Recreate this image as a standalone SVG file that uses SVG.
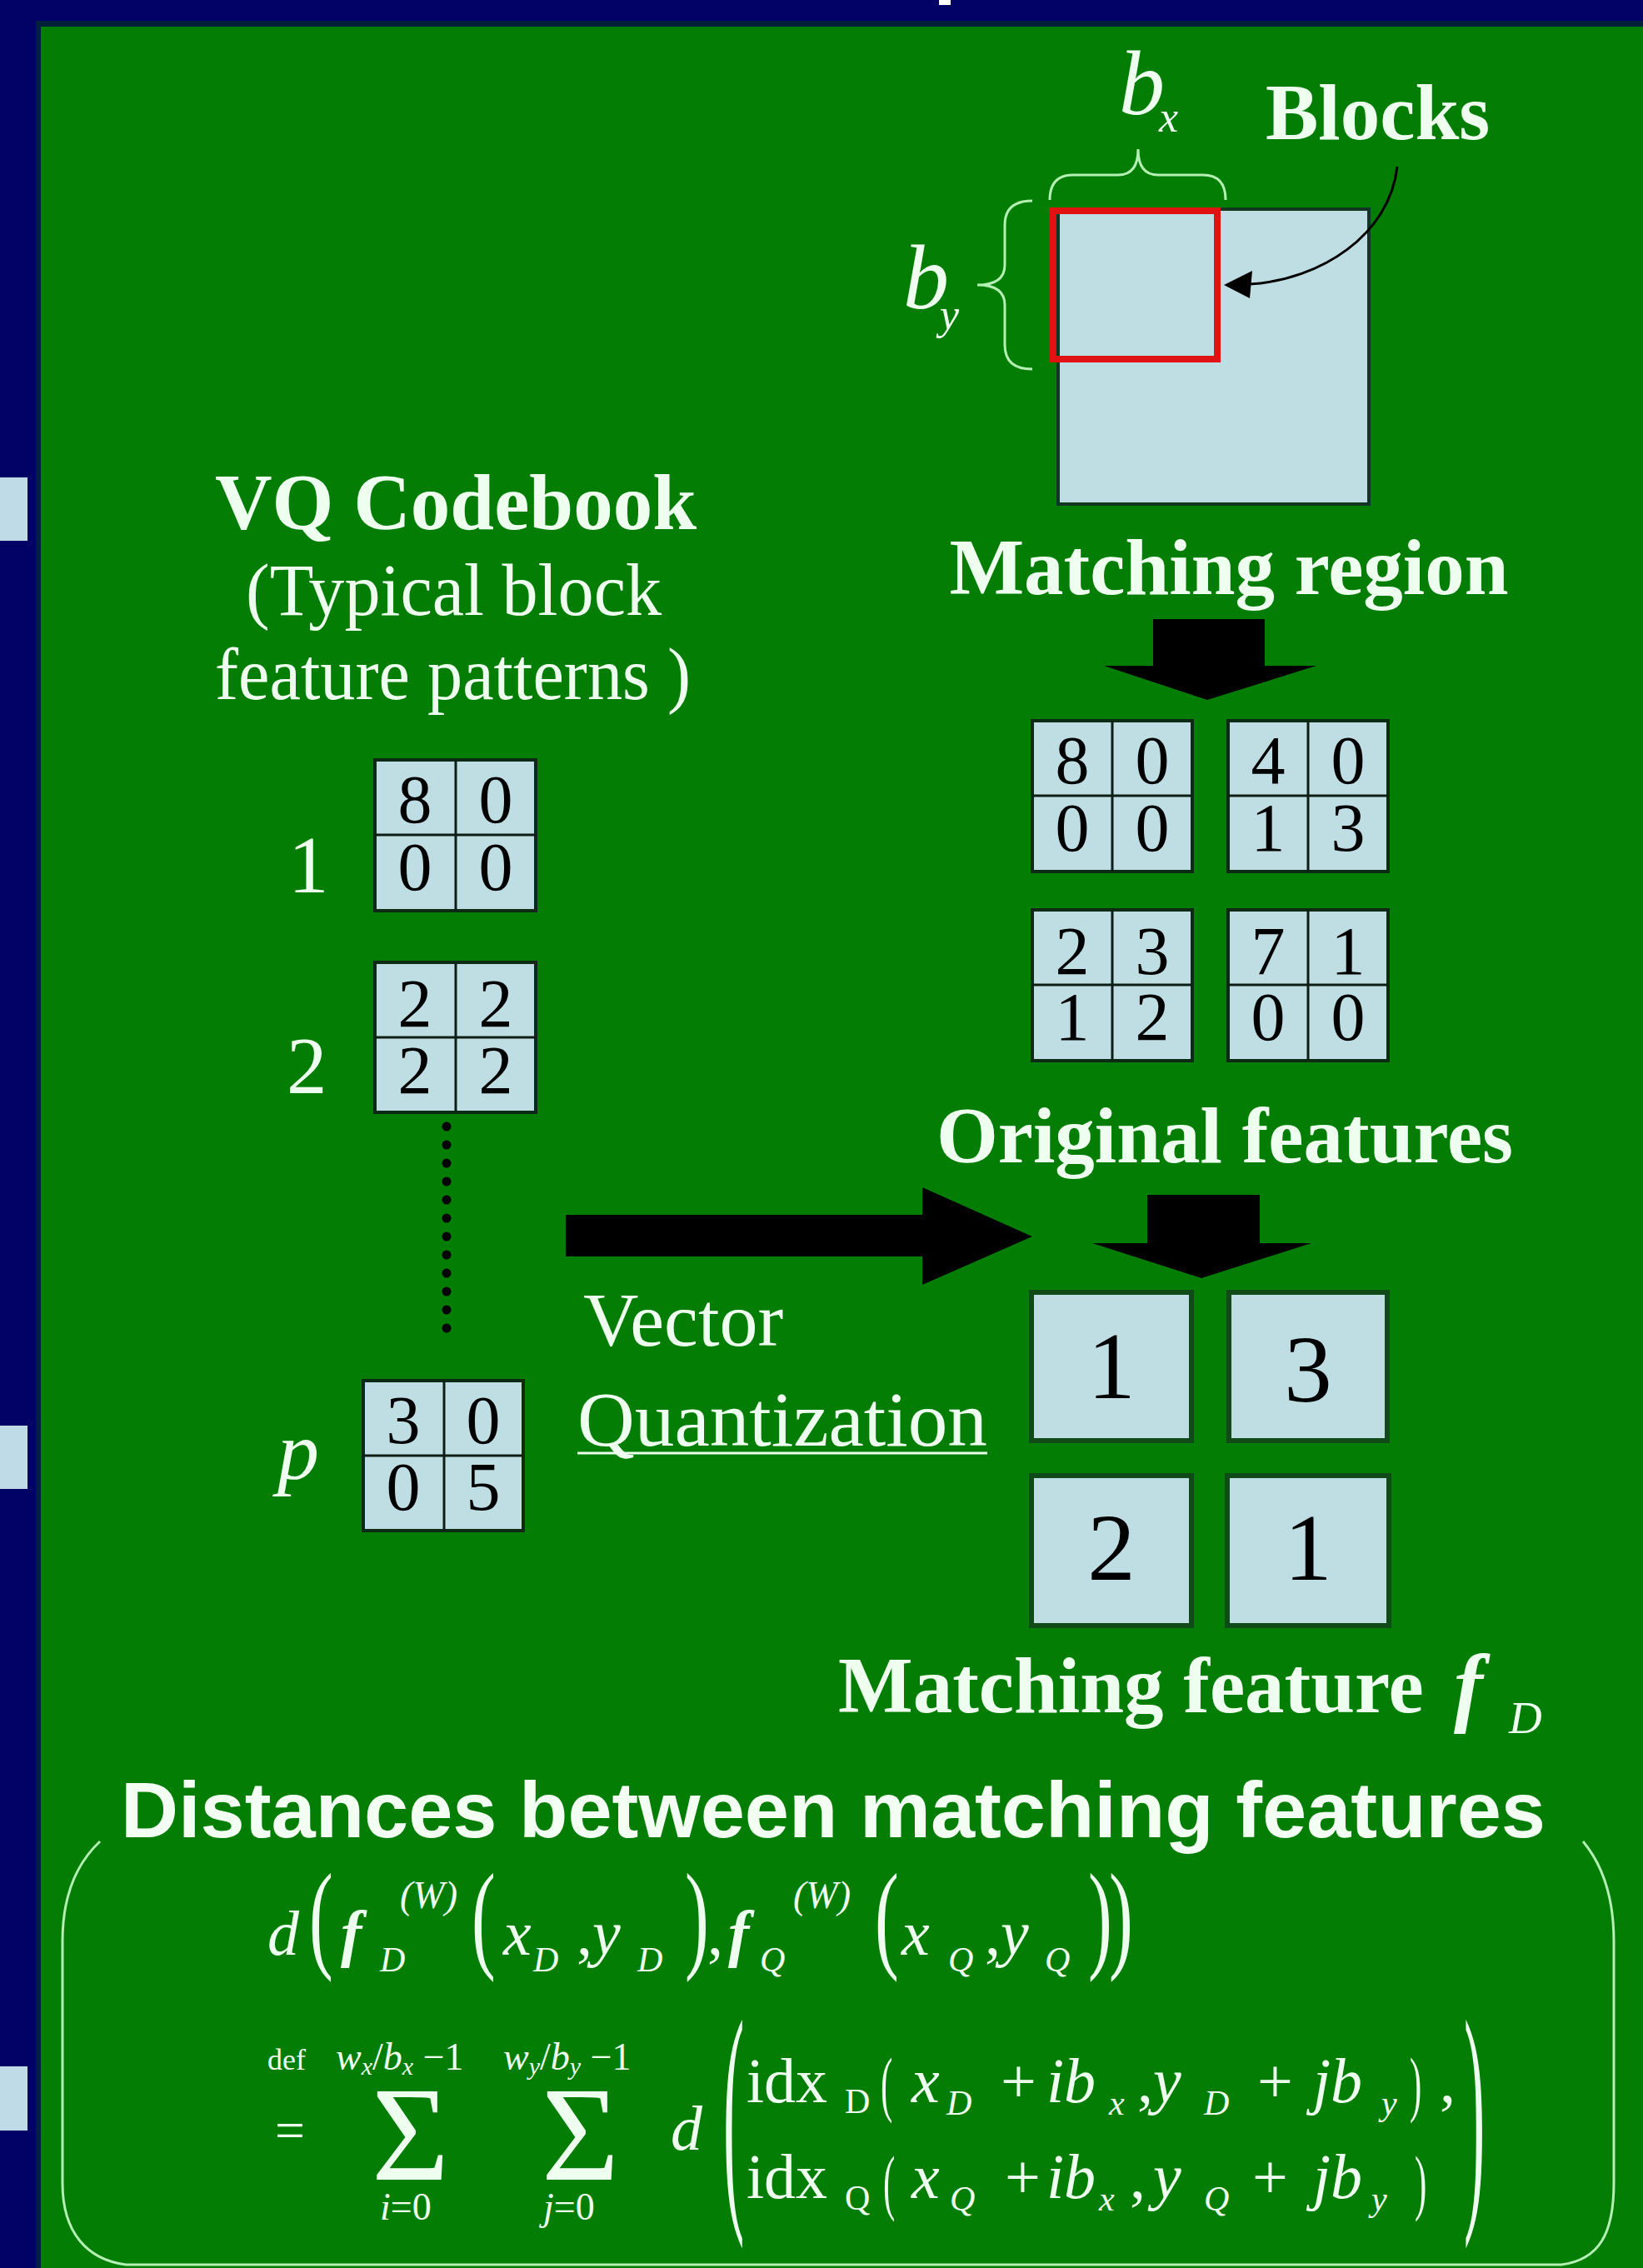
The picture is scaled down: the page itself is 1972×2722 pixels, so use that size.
<svg xmlns="http://www.w3.org/2000/svg" width="1972" height="2722" viewBox="0 0 1972 2722">
<defs>
<style>
.lt{fill:#eefff0;font-family:"Liberation Serif","Times New Roman",serif}
.bd{font-weight:bold}
.it{font-style:italic}
.up{font-style:normal}
.cell{fill:#bfdee4;stroke:#0d2a14;stroke-width:4}
.div{fill:none;stroke:#0d1f14;stroke-width:3}
.dg{fill:#000;font-family:"Liberation Serif","Times New Roman",serif;font-size:82px;text-anchor:middle}
.bx{fill:#bfdee4;stroke:#0f4a18;stroke-width:6}
.big{fill:#000;font-family:"Liberation Serif","Times New Roman",serif;font-size:115px;text-anchor:middle}
.br{fill:none;stroke:#b4efb4;stroke-width:3}
.fm{fill:#eefff0;font-family:"Liberation Serif","Times New Roman",serif;font-style:italic}
.fr{fill:#eefff0;font-family:"Liberation Serif","Times New Roman",serif}
.bul{fill:#c0dbe8}
</style>
</defs>
<rect width="1972" height="2722" fill="#020266"/>
<rect x="43" y="25" width="1929" height="2697" fill="#03203a"/>
<rect x="49" y="32" width="1923" height="2690" fill="#037d03"/>
<rect x="1127" y="0" width="14" height="6" fill="#ffffff"/>
<rect class="bul" x="0" y="573" width="33" height="76"/>
<rect class="bul" x="0" y="1711" width="33" height="76"/>
<rect class="bul" x="0" y="2480" width="33" height="77"/>

<g id="region">
<rect x="1270" y="251" width="373" height="354" fill="#bfdee4" stroke="#103820" stroke-width="4"/>
<rect x="1263" y="253" width="198" height="178" fill="none" stroke="#e01212" stroke-width="8"/>
<path class="br" d="M1260,240 Q1260,210 1288,210 L1342,210 Q1366,210 1366,179 Q1366,210 1390,210 L1444,210 Q1471,210 1471,240"/>
<path class="br" d="M1239,241 Q1206,241 1206,270 L1206,318 Q1206,342 1173,342 Q1206,342 1206,366 L1206,414 Q1206,443 1239,443"/>
<text class="lt it" x="1343" y="137" font-size="110">b<tspan x="1391" y="158" font-size="52">x</tspan></text>
<text class="lt it" x="1084" y="370" font-size="110">b<tspan x="1128" y="395" font-size="52">y</tspan></text>
<text class="lt bd" x="1519" y="167" font-size="95">Blocks</text>
<text class="lt bd" x="1475" y="713" font-size="95" text-anchor="middle">Matching region</text>
</g>

<g id="grid-a">
<rect class="cell" x="1239" y="865" width="192" height="181"/><path class="div" d="M1335,865V1046M1239,955H1431"/>
<text class="dg" x="1287" y="940">8</text><text class="dg" x="1383" y="940">0</text><text class="dg" x="1287" y="1021">0</text><text class="dg" x="1383" y="1021">0</text>
</g>
<g id="grid-b">
<rect class="cell" x="1474" y="865" width="192" height="181"/><path class="div" d="M1570,865V1046M1474,955H1666"/>
<text class="dg" x="1522" y="940">4</text><text class="dg" x="1618" y="940">0</text><text class="dg" x="1522" y="1021">1</text><text class="dg" x="1618" y="1021">3</text>
</g>
<g id="grid-c">
<rect class="cell" x="1239" y="1092" width="192" height="181"/><path class="div" d="M1335,1092V1273M1239,1182H1431"/>
<text class="dg" x="1287" y="1169">2</text><text class="dg" x="1383" y="1169">3</text><text class="dg" x="1287" y="1248">1</text><text class="dg" x="1383" y="1248">2</text>
</g>
<g id="grid-d">
<rect class="cell" x="1474" y="1092" width="192" height="181"/><path class="div" d="M1570,1092V1273M1474,1182H1666"/>
<text class="dg" x="1522" y="1169">7</text><text class="dg" x="1618" y="1169">1</text><text class="dg" x="1522" y="1248">0</text><text class="dg" x="1618" y="1248">0</text>
</g>

<g id="original-label">
<text class="lt bd" x="1470" y="1395" font-size="95" text-anchor="middle">Original features</text>
</g>

<g id="codebook-title">
<text class="lt bd" x="547" y="635" font-size="95" text-anchor="middle">VQ Codebook</text>
<text class="lt" x="295" y="738" font-size="88" textLength="499" lengthAdjust="spacingAndGlyphs">(Typical block</text>
<text class="lt" x="258" y="839" font-size="88" textLength="571" lengthAdjust="spacingAndGlyphs">feature patterns )</text>
</g>

<g id="code-1">
<text class="lt" x="346" y="1071" font-size="97">1</text>
<rect class="cell" x="450" y="912" width="193" height="181"/><path class="div" d="M547,912V1093M450,1002H643"/>
<text class="dg" x="498" y="987">8</text><text class="dg" x="595" y="987">0</text><text class="dg" x="498" y="1068">0</text><text class="dg" x="595" y="1068">0</text>
</g>
<g id="code-2">
<text class="lt" x="344" y="1312" font-size="97">2</text>
<rect class="cell" x="450" y="1155" width="193" height="180"/><path class="div" d="M547,1155V1335M450,1245H643"/>
<text class="dg" x="498" y="1232">2</text><text class="dg" x="595" y="1232">2</text><text class="dg" x="498" y="1312">2</text><text class="dg" x="595" y="1312">2</text>
</g>
<g id="code-p">
<text class="lt it" x="333" y="1775" font-size="100">p</text>
<rect class="cell" x="436" y="1657" width="192" height="180"/><path class="div" d="M533,1657V1837M436,1747H628"/>
<text class="dg" x="484" y="1732">3</text><text class="dg" x="580" y="1732">0</text><text class="dg" x="484" y="1812">0</text><text class="dg" x="580" y="1812">5</text>
</g>

<g id="vq-label">
<text class="lt" x="700" y="1615" font-size="92">Vector</text>
<text class="lt" x="693" y="1735" font-size="93" textLength="492" lengthAdjust="spacingAndGlyphs">Quantization</text>
<line x1="693" y1="1744" x2="1185" y2="1744" stroke="#eefff0" stroke-width="3"/>
</g>

<g id="feature-1"><rect class="bx" x="1238" y="1551" width="192" height="178"/><text class="big" x="1334" y="1678">1</text></g>
<g id="feature-3"><rect class="bx" x="1475" y="1551" width="190" height="178"/><text class="big" x="1570" y="1682">3</text></g>
<g id="feature-2"><rect class="bx" x="1238" y="1771" width="192" height="180"/><text class="big" x="1334" y="1896">2</text></g>
<g id="feature-4"><rect class="bx" x="1473" y="1771" width="194" height="180"/><text class="big" x="1570" y="1896">1</text></g>

<g id="feature-label">
<text class="lt bd" x="1006" y="2055" font-size="95">Matching feature <tspan class="it" x="1745" y="2058" font-size="105">f</tspan><tspan class="it" font-weight="normal" x="1811" y="2080" font-size="55">D</tspan></text>
</g>

<g id="connectors">
<path d="M1677,200 C1668,282 1585,336 1500,341" fill="none" stroke="#000" stroke-width="3"/>
<polygon points="1469,342 1503,325 1500,358" fill="#000"/>
<polygon points="1384,743 1518,743 1518,799 1580,799 1449,840 1325,799 1384,799" fill="#000"/>
<polygon points="679,1458 1107,1458 1107,1425 1239,1484 1107,1542 1107,1508 679,1508" fill="#000"/>
<polygon points="1377,1434 1512,1434 1512,1492 1574,1492 1442,1534 1311,1492 1377,1492" fill="#000"/>
<line x1="536" y1="1352" x2="536" y2="1611" stroke="#000" stroke-width="11" stroke-linecap="round" stroke-dasharray="0 22"/>
</g>

<g id="distance">
<text x="145" y="2205" font-family="Liberation Sans, Arial, sans-serif" font-weight="bold" font-size="95" fill="#f4fff4" textLength="1710" lengthAdjust="spacingAndGlyphs">Distances between matching features</text>
<path class="br" d="M120,2210 C88,2240 75,2280 75,2330 L75,2620 C75,2680 105,2712 151,2718 L1874,2718 C1920,2712 1937,2680 1937,2620 L1937,2330 C1937,2280 1925,2240 1900,2210"/>

<text class="fm" font-size="76" y="2346"><tspan x="321">d</tspan><tspan class="bd" x="409">f</tspan><tspan x="456" y="2366" font-size="42">D</tspan><tspan x="480" y="2290" font-size="46">(W)</tspan><tspan x="604" y="2346">x</tspan><tspan x="640" y="2366" font-size="42">D</tspan><tspan class="up" x="692" y="2346">,</tspan><tspan x="711">y</tspan><tspan x="765" y="2366" font-size="42">D</tspan><tspan class="up" x="849" y="2346">,</tspan><tspan class="bd" x="874">f</tspan><tspan x="912" y="2366" font-size="42">Q</tspan><tspan x="952" y="2290" font-size="46">(W)</tspan><tspan x="1082" y="2346">x</tspan><tspan x="1138" y="2366" font-size="42">Q</tspan><tspan class="up" x="1182" y="2346">,</tspan><tspan x="1201">y</tspan><tspan x="1254" y="2366" font-size="42">Q</tspan></text>
<text class="fr" transform="translate(371,2348) scale(0.6,1)" font-size="144">(</text>
<text class="fr" transform="translate(566,2348) scale(0.6,1)" font-size="144">(</text>
<text class="fr" transform="translate(822,2348) scale(0.6,1)" font-size="144">)</text>
<text class="fr" transform="translate(1050,2348) scale(0.6,1)" font-size="144">(</text>
<text class="fr" transform="translate(1306,2348) scale(0.6,1)" font-size="144">)</text>
<text class="fr" transform="translate(1331,2348) scale(0.6,1)" font-size="144">)</text>

<text class="fr" font-size="36" y="2484"><tspan x="321">def</tspan><tspan class="it" x="403" font-size="46">w</tspan><tspan class="it" font-size="30" dy="6">x</tspan><tspan font-size="46" dy="-6">/</tspan><tspan class="it" font-size="46">b</tspan><tspan class="it" font-size="30" dy="6">x</tspan><tspan font-size="46" dy="-6"> −1</tspan><tspan class="it" x="604" font-size="46">w</tspan><tspan class="it" font-size="30" dy="6">y</tspan><tspan font-size="46" dy="-6">/</tspan><tspan class="it" font-size="46">b</tspan><tspan class="it" font-size="30" dy="6">y</tspan><tspan font-size="46" dy="-6"> −1</tspan></text>
<text class="fr" x="330" y="2578" font-size="64">=</text>
<text class="fr" font-size="160" y="2616"><tspan x="446">Σ</tspan><tspan x="650">Σ</tspan></text>
<text class="fr" font-size="46" y="2664"><tspan class="it" x="456">i</tspan>=0<tspan class="it" x="652">j</tspan>=0</text>
<text class="fm" x="805" y="2580" font-size="76">d</text>
<text class="fr" transform="translate(868,2634) scale(0.25,1)" font-size="303">(</text>
<text class="fr" transform="translate(1757,2634) scale(0.25,1)" font-size="303">)</text>

<text class="fr" font-size="76" y="2523"><tspan x="896">idx</tspan><tspan x="1014" y="2536" font-size="42">D</tspan><tspan class="it" x="1094" y="2523">x</tspan><tspan class="it" x="1136" y="2538" font-size="42">D</tspan><tspan x="1201" y="2523">+</tspan><tspan class="it" x="1256">ib</tspan><tspan class="it" x="1331" y="2538" font-size="42">x</tspan><tspan x="1365" y="2523">,</tspan><tspan class="it" x="1384">y</tspan><tspan class="it" x="1445" y="2538" font-size="42">D</tspan><tspan x="1509" y="2523">+</tspan><tspan class="it" x="1576">jb</tspan><tspan class="it" x="1658" y="2538" font-size="42">y</tspan><tspan x="1728" y="2523">,</tspan></text>
<text class="fr" transform="translate(1057,2530) scale(0.5,1)" font-size="86">(</text>
<text class="fr" transform="translate(1692,2530) scale(0.5,1)" font-size="86">)</text>

<text class="fr" font-size="76" y="2638"><tspan x="896">idx</tspan><tspan x="1014" y="2652" font-size="42">Q</tspan><tspan class="it" x="1094" y="2638">x</tspan><tspan class="it" x="1140" y="2653" font-size="42">Q</tspan><tspan x="1206" y="2638">+</tspan><tspan class="it" x="1256">ib</tspan><tspan class="it" x="1319" y="2653" font-size="42">x</tspan><tspan x="1356" y="2638">,</tspan><tspan class="it" x="1384">y</tspan><tspan class="it" x="1445" y="2653" font-size="42">Q</tspan><tspan x="1503" y="2638">+</tspan><tspan class="it" x="1576">jb</tspan><tspan class="it" x="1646" y="2653" font-size="42">y</tspan></text>
<text class="fr" transform="translate(1060,2648) scale(0.5,1)" font-size="86">(</text>
<text class="fr" transform="translate(1698,2648) scale(0.5,1)" font-size="86">)</text>
</g>
</svg>
